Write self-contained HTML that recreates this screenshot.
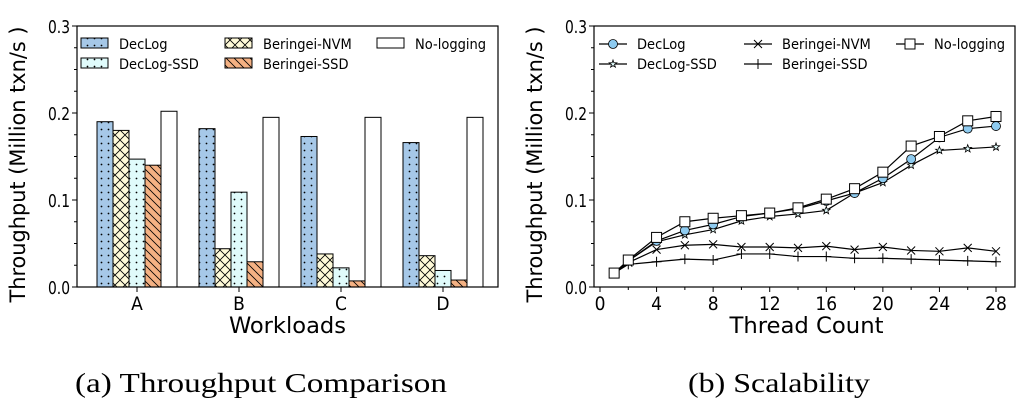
<!DOCTYPE html>
<html><head><meta charset="utf-8"><style>
html,body{margin:0;padding:0;background:#fff;}
svg{display:block;font-family:"DejaVu Sans Condensed","DejaVu Sans","Liberation Sans",sans-serif;}
.cap{font-family:"Liberation Serif",serif;font-size:27px;}
</style></head><body>
<svg id="c" width="1023" height="410" viewBox="0 0 1023 410">
<defs>
<pattern id="pDot" width="7" height="7" patternUnits="userSpaceOnUse"><rect width="7" height="7" fill="#a6c8e8"/><circle cx="3.5" cy="3.5" r="0.9" fill="#000"/></pattern>
<pattern id="pDot2" width="7" height="7" patternUnits="userSpaceOnUse"><rect width="7" height="7" fill="#e0fbfb"/><circle cx="3.5" cy="3.5" r="0.9" fill="#000"/></pattern>
<pattern id="pX" width="10" height="10" patternUnits="userSpaceOnUse"><rect width="10" height="10" fill="#fffad8"/><path d="M0 0L10 10M10 0L0 10" stroke="#000" stroke-width="0.8"/></pattern>
<pattern id="pBs" width="8" height="8" patternUnits="userSpaceOnUse"><rect width="8" height="8" fill="#f4b183"/><path d="M0 0L8 8M-4 4L4 12M4 -4L12 4" stroke="#000" stroke-width="0.8"/></pattern>
</defs>
<g id="left"></g>
<g id="right"></g>
<text class="cap" x="75" y="392" textLength="372" lengthAdjust="spacingAndGlyphs">(a)  Throughput Comparison</text>
<text class="cap" x="688" y="392" textLength="182" lengthAdjust="spacingAndGlyphs">(b)  Scalability</text>
</svg>
<script>
const NS="http://www.w3.org/2000/svg";
const workloads=["A","B","C","D"];
const barSeries=["DecLog","DecLog-SSD","Beringei-NVM","Beringei-SSD","No-logging"];
const declogBar=[0.190,0.182,0.173,0.166];
const nvmBar=[0.180,0.044,0.038,0.036];
const ssdBar=[0.147,0.109,0.022,0.019];
const bssdBar=[0.140,0.029,0.007,0.008];
const nologBar=[0.202,0.195,0.195,0.195];
const yTicks=[0.0,0.1,0.2,0.3];
const threads=[1,2,4,6,8,10,12,14,16,18,20,22,24,26,28];
const xTicks=[0,4,8,12,16,20,24,28];
const nologLine=[.016,.031,.057,.075,.079,.082,.085,.091,.101,.113,.132,.162,.173,.191,.196];
const declogLine=[.016,.030,.053,.065,.072,.081,.085,.090,.099,.108,.125,.147,.172,.182,.185];
const ssdLine=[.016,.030,.052,.060,.066,.076,.081,.084,.088,.108,.120,.140,.157,.159,.161];
const nvmLine=[.016,.028,.043,.048,.049,.046,.046,.045,.047,.043,.046,.042,.041,.045,.041];
const bssdLine=[.016,.026,.029,.032,.031,.038,.038,.035,.035,.033,.033,.032,.031,.030,.029];

function el(p,t,a){const e=document.createElementNS(NS,t);for(const k in a)e.setAttribute(k,a[k]);p.appendChild(e);return e;}
const yTop=26,yBot=287;
const yS=v=>yBot-(v/0.3)*(yBot-yTop);

function axesY(g,x0,name){
  yTicks.forEach(v=>{const y=yS(v);
    el(g,"line",{x1:x0-5,x2:x0,y1:y,y2:y,stroke:"#000"});
    const t=el(g,"text",{x:x0-7,y:y+7,"text-anchor":"end","font-size":18,textLength:22,lengthAdjust:"spacingAndGlyphs"});t.textContent=v.toFixed(1);
    
    
  });
  for(let v=0.025;v<0.3;v+=0.025){const y=yS(v);el(g,"line",{x1:x0-3,x2:x0,y1:y,y2:y,stroke:"#000"});}
  const t=el(g,"text",{transform:`translate(${x0-52},${(yTop+yBot)/2+8}) rotate(-90)`,"text-anchor":"middle","font-size":21,textLength:276,lengthAdjust:"spacingAndGlyphs"});
  t.textContent="Throughput (Million txn/s )";
  
  
}

// LEFT
const LG=document.getElementById("left");
const lx0=77,lx1=498;
const fills=["url(#pDot)","url(#pDot2)","url(#pX)","url(#pBs)","#fff"];
const vals=[declogBar,ssdBar,nvmBar,bssdBar,nologBar];
const order=[0,2,1,3,4];
const bw=16,gs=102,g0=97;
workloads.forEach((w,i)=>{
  const gx=g0+i*gs;
  order.forEach((s,j)=>{
    const v=vals[s][i];
    const r=el(LG,"rect",{x:gx+j*bw,y:yS(v),width:bw,height:yBot-yS(v),fill:fills[s],stroke:"#000","stroke-width":1});
    
    
  });
  const cx=gx+2.5*bw;
  el(LG,"line",{x1:cx,x2:cx,y1:yBot,y2:yBot+5,stroke:"#000"});
  const t=el(LG,"text",{x:cx,y:yBot+23,"text-anchor":"middle","font-size":19});t.textContent=w;
  
  
});
el(LG,"rect",{x:lx0,y:yTop,width:lx1-lx0,height:yBot-yTop,fill:"none",stroke:"#000","stroke-width":1.2});
axesY(LG,lx0,"y-axis-title-left");
let tx=el(LG,"text",{x:(lx0+lx1)/2,y:333,"text-anchor":"middle","font-size":22,textLength:117,lengthAdjust:"spacingAndGlyphs"});tx.textContent="Workloads";

const legL=[[0,81,44],[2,225,44],[4,377,44],[1,81,64],[3,225,64]];
legL.forEach(([s,x,y])=>{
  el(LG,"rect",{x:x,y:y-6,width:27,height:10,fill:fills[s],stroke:"#000"});
  const tt=el(LG,"text",{x:x+38,y:y+5,"font-size":14.5});tt.textContent=barSeries[s];
  
  
});

// RIGHT
const RG=document.getElementById("right");
const rx0=594,rx1=1015,xa=600,xb=996;
const xS=v=>xa+(v/28)*(xb-xa);
el(RG,"rect",{x:rx0,y:yTop,width:rx1-rx0,height:yBot-yTop,fill:"none",stroke:"#000","stroke-width":1.2});
axesY(RG,rx0,"y-axis-title-right");
for(let v=0;v<=28;v+=2){const x=xS(v);el(RG,"line",{x1:x,x2:x,y1:yBot,y2:yBot+(v%4==0?5:3),stroke:"#000"});}
xTicks.forEach(v=>{const tt=el(RG,"text",{x:xS(v),y:yBot+23,"text-anchor":"middle","font-size":19});tt.textContent=v;
  });
tx=el(RG,"text",{x:(rx0+rx1)/2+2,y:333,"text-anchor":"middle","font-size":22,textLength:154,lengthAdjust:"spacingAndGlyphs"});tx.textContent="Thread Count";


function marker(g,type,x,y){
  if(type=="o")el(g,"circle",{cx:x,cy:y,r:4.5,fill:"#8ecbf0",stroke:"#000","stroke-width":0.8});
  else if(type=="s")el(g,"rect",{x:x-5,y:y-5,width:10,height:10,fill:"#fff",stroke:"#000","stroke-width":1});
  else if(type=="x")el(g,"path",{d:`M${x-4} ${y-4}L${x+4} ${y+4}M${x+4} ${y-4}L${x-4} ${y+4}`,stroke:"#000","stroke-width":1});
  else if(type=="+")el(g,"path",{d:`M${x-5} ${y}L${x+5} ${y}M${x} ${y-5}L${x} ${y+5}`,stroke:"#000","stroke-width":1});
  else if(type=="*"){let p="";for(let i=0;i<10;i++){const a=-Math.PI/2+i*Math.PI/5,r=i%2?1.6:4;p+=(i?"L":"M")+(x+r*Math.cos(a)).toFixed(1)+" "+(y+r*Math.sin(a)).toFixed(1);}el(g,"path",{d:p+"Z",fill:"#e0fbfb",stroke:"#000","stroke-width":0.8});}
}
const lines=[["Beringei-SSD",bssdLine,"+"],["Beringei-NVM",nvmLine,"x"],["DecLog-SSD",ssdLine,"*"],["DecLog",declogLine,"o"],["No-logging",nologLine,"s"]];
lines.forEach(([n,d,m])=>{
  const g=el(RG,"g",{});
  
  
  el(g,"polyline",{points:threads.map((x,i)=>xS(x)+","+yS(d[i])).join(" "),fill:"none",stroke:"#000","stroke-width":1.2});
  threads.forEach((x,i)=>marker(g,m,xS(x),yS(d[i])));
});
const legR=[["DecLog","o",599,44],["Beringei-NVM","x",744,44],["No-logging","s",896,44],["DecLog-SSD","*",599,64],["Beringei-SSD","+",744,64]];
legR.forEach(([n,m,x,y])=>{
  el(RG,"line",{x1:x,x2:x+28,y1:y,y2:y,stroke:"#000","stroke-width":1.2});
  marker(RG,m,x+14,y);
  const tt=el(RG,"text",{x:x+38,y:y+5,"font-size":14.5});tt.textContent=n;
  
  
});
</script>
</body></html>
